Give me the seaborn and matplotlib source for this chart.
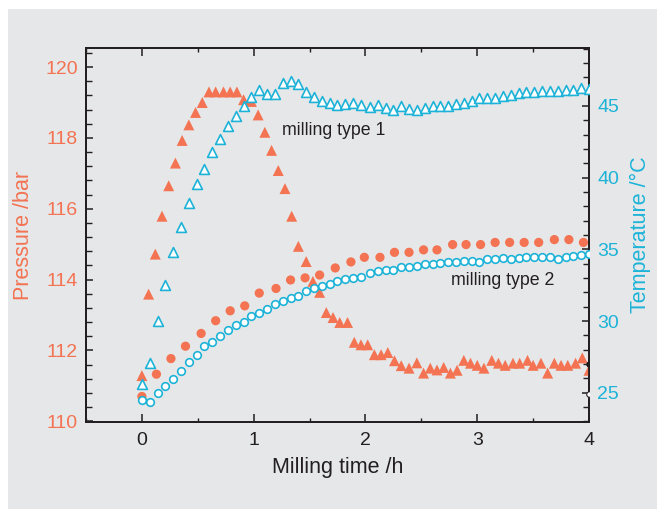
import matplotlib
matplotlib.use("Agg")
import matplotlib.pyplot as plt
import seaborn as sns
from matplotlib.ticker import MultipleLocator
from matplotlib.patches import Rectangle

# ---------------- data ----------------
t_p1 = [0.00, 0.06, 0.12, 0.18, 0.24, 0.30, 0.36, 0.42, 0.48, 0.54,
        0.60, 0.66, 0.73, 0.79, 0.85, 0.91, 0.98, 1.04, 1.10, 1.16,
        1.22, 1.28, 1.34, 1.40, 1.47, 1.53, 1.59, 1.65, 1.71, 1.77,
        1.84, 1.90, 1.96, 2.02, 2.08, 2.14, 2.20, 2.26, 2.32, 2.39,
        2.46, 2.52, 2.58, 2.64, 2.70, 2.76, 2.82, 2.88, 2.94, 3.00,
        3.06, 3.13, 3.19, 3.25, 3.32, 3.38, 3.45, 3.50, 3.57, 3.63,
        3.69, 3.75, 3.81, 3.88, 3.94, 4.00]
pressure_type1 = [111.29, 113.59, 114.72, 115.79, 116.65, 117.29, 117.93, 118.37, 118.72, 119.00,
                  119.30, 119.30, 119.30, 119.30, 119.30, 119.08, 119.03, 118.65, 118.16, 117.65,
                  117.08, 116.57, 115.79, 114.94, 114.51, 113.95, 113.64, 113.07, 112.93, 112.79,
                  112.79, 112.23, 112.16, 112.16, 111.88, 111.88, 111.94, 111.71, 111.57, 111.50,
                  111.65, 111.36, 111.50, 111.45, 111.52, 111.36, 111.44, 111.72, 111.64, 111.58,
                  111.50, 111.72, 111.64, 111.58, 111.64, 111.64, 111.72, 111.58, 111.64, 111.36,
                  111.64, 111.58, 111.58, 111.64, 111.79, 111.44]

t_temp = [0.00, 0.07, 0.14, 0.21, 0.28, 0.35, 0.42, 0.49, 0.56, 0.63,
          0.70, 0.77, 0.84, 0.91, 0.98, 1.05, 1.12, 1.19, 1.26, 1.33,
          1.40, 1.47, 1.54, 1.61, 1.68, 1.75, 1.82, 1.89, 1.96, 2.04,
          2.11, 2.18, 2.25, 2.32, 2.39, 2.46, 2.53, 2.60, 2.67, 2.74,
          2.81, 2.88, 2.95, 3.02, 3.09, 3.16, 3.23, 3.30, 3.37, 3.44,
          3.51, 3.58, 3.65, 3.72, 3.79, 3.86, 3.93, 4.00]
temp_type1 = [25.61, 27.05, 30.02, 32.51, 34.83, 36.58, 38.21, 39.53, 40.60, 41.81,
              42.69, 43.60, 44.30, 45.00, 45.60, 46.08, 45.81, 45.81, 46.58, 46.74,
              46.51, 45.99, 45.60, 45.36, 45.18, 45.06, 45.11, 45.18, 45.06, 44.94,
              45.06, 44.83, 44.71, 45.00, 44.76, 44.71, 44.87, 45.00, 45.00, 45.00,
              45.11, 45.22, 45.34, 45.53, 45.53, 45.53, 45.69, 45.78, 45.88, 45.95,
              45.95, 46.04, 46.04, 46.04, 46.11, 46.11, 46.23, 46.16]
temp_type2 = [24.49, 24.36, 24.96, 25.47, 25.96, 26.55, 27.15, 27.66, 28.25, 28.55,
              28.94, 29.37, 29.75, 29.95, 30.35, 30.57, 30.86, 31.16, 31.37, 31.64,
              31.73, 32.07, 32.27, 32.46, 32.57, 32.76, 32.93, 32.99, 33.07, 33.38,
              33.50, 33.56, 33.56, 33.74, 33.77, 33.86, 33.95, 33.98, 34.02, 34.09,
              34.14, 34.21, 34.21, 34.14, 34.30, 34.32, 34.37, 34.32, 34.37, 34.48,
              34.48, 34.48, 34.48, 34.30, 34.48, 34.55, 34.60, 34.67]

t_p2 = [0.00, 0.13, 0.26, 0.39, 0.53, 0.66, 0.79, 0.92, 1.05, 1.20,
        1.33, 1.46, 1.59, 1.73, 1.87, 1.99, 2.13, 2.26, 2.39, 2.52,
        2.64, 2.78, 2.90, 3.03, 3.16, 3.29, 3.42, 3.55, 3.69, 3.82, 3.95]
pressure_type2 = [110.70, 111.33, 111.77, 112.12, 112.48, 112.84, 113.12, 113.26, 113.62, 113.75,
                  113.99, 114.05, 114.13, 114.33, 114.50, 114.63, 114.63, 114.77, 114.77, 114.84,
                  114.84, 114.99, 114.99, 114.99, 115.05, 115.05, 115.05, 115.05, 115.13, 115.13, 115.05]

x_ticks = [0, 1, 2, 3, 4]
p_ticks = [110, 112, 114, 116, 118, 120]
t_ticks = [25, 30, 35, 40, 45]

# ---------------- style ----------------
sns.set_theme(style="ticks")
plt.rcParams['font.family'] = ['Liberation Sans', 'DejaVu Sans']

ORANGE = '#F37352'
CYAN = '#1DB3D8'
DARK = '#231F20'
BG = '#E6E7E8'

fig = plt.figure(figsize=(6.57, 5.09), dpi=100)
fig.patch.set_facecolor('white')
fig.patches.append(Rectangle((8 / 657, 0), 1, 1 - 9 / 509, transform=fig.transFigure,
                             facecolor=BG, edgecolor='none', zorder=-10))

ax = fig.add_axes([86 / 657, 1 - 422 / 509, (589 - 86) / 657, (422 - 48) / 509])
ax.set_facecolor(BG)
ax2 = ax.twinx()

# pressure (left axis)
sns.scatterplot(x=t_p1, y=pressure_type1, ax=ax, marker='^', s=62, color=ORANGE,
                edgecolor='none', linewidth=0, zorder=3)
sns.scatterplot(x=t_p2, y=pressure_type2, ax=ax, marker='o', s=44, color=ORANGE,
                edgecolor='none', linewidth=0, zorder=3)
ax.plot([4.0], [111.63], 'o', ms=3.5, color='black', zorder=4, clip_on=True)

# temperature (right axis)
sns.scatterplot(x=t_temp, y=temp_type1, ax=ax2, marker='^', s=50, color='white',
                edgecolor=CYAN, linewidth=1.2, zorder=3)
sns.scatterplot(x=t_temp, y=temp_type2, ax=ax2, marker='o', s=30, color='white',
                edgecolor=CYAN, linewidth=1.2, zorder=3)
ax2.plot([4.0], [24.9], 'o', ms=4, mfc='white', mec=DARK, mew=0.8, zorder=4)

# limits
ax.set_xlim(-0.5, 4.0)
ax.set_ylim(109.98, 120.54)
ax2.set_ylim(22.96, 49.04)

ax.set_xticks(x_ticks)
ax.set_yticks(p_ticks)
ax2.set_yticks(t_ticks)
ax.xaxis.set_minor_locator(MultipleLocator(0.5))
ax.yaxis.set_minor_locator(MultipleLocator(0.4))
ax2.yaxis.set_minor_locator(MultipleLocator(1))

for a in (ax, ax2):
    for sp in a.spines.values():
        sp.set_visible(True)
        sp.set_color(DARK)
        sp.set_linewidth(1.3)

ax.tick_params(axis='x', which='both', direction='in', top=True, bottom=True,
               color=DARK, labelcolor=DARK, labelsize=14, pad=7)
ax.tick_params(axis='x', which='major', length=6, width=1.1)
ax.tick_params(axis='x', which='minor', length=3, width=1.0)
ax.tick_params(axis='y', which='both', direction='in', left=True, right=False,
               color=DARK, labelcolor=ORANGE, labelsize=14, pad=6)
ax.tick_params(axis='y', which='major', length=5, width=1.1)
ax.tick_params(axis='y', which='minor', length=4.5, width=1.0)
ax2.tick_params(axis='y', which='both', direction='in', right=True, left=False,
                color=DARK, labelcolor=CYAN, labelsize=14, pad=6)
ax2.tick_params(axis='y', which='major', length=5, width=1.1)
ax2.tick_params(axis='y', which='minor', length=4.5, width=1.0)

ax.set_xlabel('Milling time /h', color=DARK, fontsize=15.5, labelpad=6)
ax.set_ylabel('Pressure /bar', color=ORANGE, fontsize=15.5, labelpad=8)
ax2.set_ylabel('Temperature /°C', color=CYAN, fontsize=15.5, labelpad=8)

ax.text(1.254, 118.09, 'milling type 1', color=DARK, fontsize=12.8,
        ha='left', va='baseline', zorder=5)
ax.text(2.769, 113.86, 'milling type 2', color=DARK, fontsize=12.8,
        ha='left', va='baseline', zorder=5)

fig.savefig('out.png', dpi=100, facecolor=fig.get_facecolor())
